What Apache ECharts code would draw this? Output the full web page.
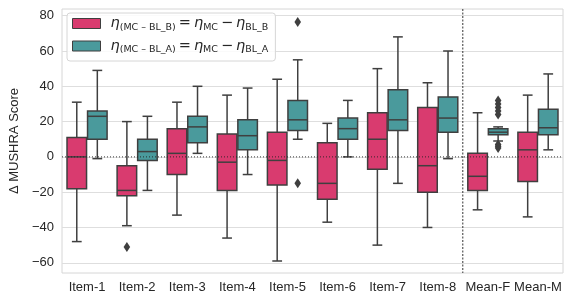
<!DOCTYPE html>
<html>
<head>
<meta charset="utf-8">
<script src="https://cdn.jsdelivr.net/npm/echarts@6/dist/echarts.min.js"></script>
<style>
html,body{margin:0;padding:0;background:#fff;}
#chart{width:574px;height:306px;}
</style>
</head>
<body>
<div id="chart"></div>
<script>
// ---- data ----
const categories = ['Item-1','Item-2','Item-3','Item-4','Item-5','Item-6','Item-7','Item-8','Mean-F','Mean-M'];
const yTicks = [-60,-40,-20,0,20,40,60,80];
// five-number summaries [whiskerLow, Q1, median, Q3, whiskerHigh]
const boxB = [
  [-48,-18,0,11,31],
  [-39,-22,-19,-5,20],
  [-33,-10,2,16,31],
  [-46,-19,-3,13,35],
  [-59,-16,-2,14,44],
  [-37,-24,-15,8,19],
  [-50,-7,10,25,50],
  [-40,-20,-5,28,42],
  [-30,-19,-11,2,25],
  [-34,-14,4,14,35]
];
const boxA = [
  [-1,10,23,26,49],
  [-19,-2,3,10,23],
  [2,8,17,23,40],
  [-10,4,12,21,39],
  [10,15,21,32,55],
  [0,10,16,22,32],
  [-15,15,21,38,68],
  [-1,14,22,34,60],
  [9,12.5,14,16,17],
  [4,12.5,16.5,27,47]
];
// outliers [categoryIndex, value]
const outB = [[1,-51]];
const outA = [[4,76.5],[4,-15],[8,32],[8,30],[8,28],[8,26],[8,24],[8,7],[8,6],[8,5]];

const pink = '#d93b6f';
const teal = '#4a9a9c';
const edge = '#3f3f3f';

function boxRender(side, color) {
  return function (params, api) {
    const i = api.value(0);
    const band = api.size([1, 0])[0];
    const cx = api.coord([i, 0])[0];
    const inner = band * 0.01, outer = band * 0.4;
    const x0 = side < 0 ? cx - outer : cx + inner;
    const w = outer - inner;
    const mid = x0 + w / 2;
    const Y = k => api.coord([i, api.value(k)])[1];
    const capHalf = w / 4;
    const ls = {stroke: edge, lineWidth: 1.5};
    return {
      type: 'group',
      children: [
        {type:'line', shape:{x1:mid,y1:Y(1),x2:mid,y2:Y(2)}, style:ls},
        {type:'line', shape:{x1:mid,y1:Y(4),x2:mid,y2:Y(5)}, style:ls},
        {type:'line', shape:{x1:mid-capHalf,y1:Y(1),x2:mid+capHalf,y2:Y(1)}, style:ls},
        {type:'line', shape:{x1:mid-capHalf,y1:Y(5),x2:mid+capHalf,y2:Y(5)}, style:ls},
        {type:'rect', shape:{x:x0,y:Y(4),width:w,height:Y(2)-Y(4)}, style:{fill:color, stroke:edge, lineWidth:1.5}},
        {type:'line', shape:{x1:x0,y1:Y(3),x2:x0+w,y2:Y(3)}, style:ls}
      ]
    };
  };
}
function outRender(side) {
  return function (params, api) {
    const i = api.value(0);
    const band = api.size([1, 0])[0];
    const cx = api.coord([i, 0])[0];
    const inner = band * 0.01, outer = band * 0.4;
    const x0 = side < 0 ? cx - outer : cx + inner;
    const mid = x0 + (outer - inner) / 2;
    const y = api.coord([i, api.value(1)])[1];
    return {
      type: 'polygon',
      shape: {points: [[mid, y - 5], [mid + 3.3, y], [mid, y + 5], [mid - 3.3, y]]},
      style: {fill: edge}
    };
  };
}
function refRender(params, api) {
  const cs = params.coordSys;
  const band = api.size([1, 0])[0];
  const y0 = api.coord([0, 0])[1];
  const xv = api.coord([7, 0])[0] + band / 2;
  return {
    type: 'group',
    children: [
      {type:'line', shape:{x1:cs.x,y1:y0,x2:cs.x+cs.width,y2:y0}, style:{stroke:'#222', lineWidth:0.9, lineDash:[1,2]}},
      {type:'line', shape:{x1:xv,y1:cs.y,x2:xv,y2:cs.y+cs.height}, style:{stroke:'#333', lineWidth:1, lineDash:[2,1.5]}}
    ]
  };
}

const dataB = boxB.map((b, i) => [i].concat(b));
const dataA = boxA.map((b, i) => [i].concat(b));

const labelB = '{g| }{e|η}{s|(MC – BL_B)}{o|=}{e|η}{s|MC}{o|−}{e|η}{s|BL_B}';
const labelA = '{g| }{e|η}{s|(MC – BL_A)}{o|=}{e|η}{s|MC}{o|−}{e|η}{s|BL_A}';

const chart = echarts.init(document.getElementById('chart'), null, {renderer: 'canvas'});
chart.setOption({
  animation: false,
  backgroundColor: '#fff',
  grid: {left: 61, right: 11, top: 9, bottom: 33, show: true, borderColor: '#d6d6d6', borderWidth: 1},
  legend: {
    left: 67, top: 13, orient: 'vertical',
    data: [
      {name: 'B', icon: 'rect', itemStyle: {color: pink, borderColor: edge, borderWidth: 1}},
      {name: 'A', icon: 'rect', itemStyle: {color: teal, borderColor: edge, borderWidth: 1}}
    ],
    itemWidth: 28, itemHeight: 10, itemGap: 6,
    padding: [3, 7, 6, 5],
    backgroundColor: 'rgba(255,255,255,0.85)', borderColor: '#d6d6d6', borderWidth: 1, borderRadius: 3,
    formatter: n => n === 'B' ? labelB : labelA,
    textStyle: {
      color: '#262626',
      rich: {
        g: {width: 5, fontSize: 10},
        e: {fontFamily: 'DejaVu Sans', fontStyle: 'italic', fontSize: 14.5, lineHeight: 18, color: '#262626'},
        o: {fontFamily: 'DejaVu Sans', fontSize: 14.5, lineHeight: 18, padding: [0, 3, 0, 3], color: '#262626'},
        s: {fontFamily: 'DejaVu Sans', fontSize: 9.5, lineHeight: 11, verticalAlign: 'bottom', color: '#262626'}
      }
    }
  },
  xAxis: {
    type: 'category', data: categories,
    axisLine: {show: false}, axisTick: {show: false},
    axisLabel: {interval: 0, margin: 8, color: '#262626', fontSize: 13, fontFamily: 'Liberation Sans'},
    splitLine: {show: false}
  },
  yAxis: {
    type: 'value', min: -65.8, max: 83.8,
    name: 'Δ MUSHRA Score', nameLocation: 'middle', nameGap: 41,
    nameTextStyle: {color: '#262626', fontSize: 13, fontFamily: 'Liberation Sans'},
    axisLine: {show: false},
    axisTick: {show: false, customValues: yTicks},
    axisLabel: {customValues: yTicks, color: '#262626', fontSize: 13, fontFamily: 'Liberation Sans', margin: 8,
      formatter: v => v < 0 ? '\u2212' + Math.abs(v) : String(v)},
    splitLine: {show: true, lineStyle: {color: '#dedede', width: 1}}
  },
  series: [
    {name: 'B', type: 'custom', renderItem: boxRender(-1, pink), data: dataB, itemStyle: {color: pink},
     encode: {x: 0, y: [1,2,3,4,5]}, z: 2},
    {name: 'A', type: 'custom', renderItem: boxRender(1, teal), data: dataA, itemStyle: {color: teal},
     encode: {x: 0, y: [1,2,3,4,5]}, z: 2},
    {name: 'outB', type: 'custom', renderItem: outRender(-1), data: outB, encode: {x: 0, y: 1}, z: 3},
    {name: 'outA', type: 'custom', renderItem: outRender(1), data: outA, encode: {x: 0, y: 1}, z: 3},
    {name: 'ref', type: 'custom', renderItem: refRender, data: [[0, 0]], encode: {x: 0, y: 1}, z: 4, silent: true}
  ]
});
</script>
</body>
</html>
